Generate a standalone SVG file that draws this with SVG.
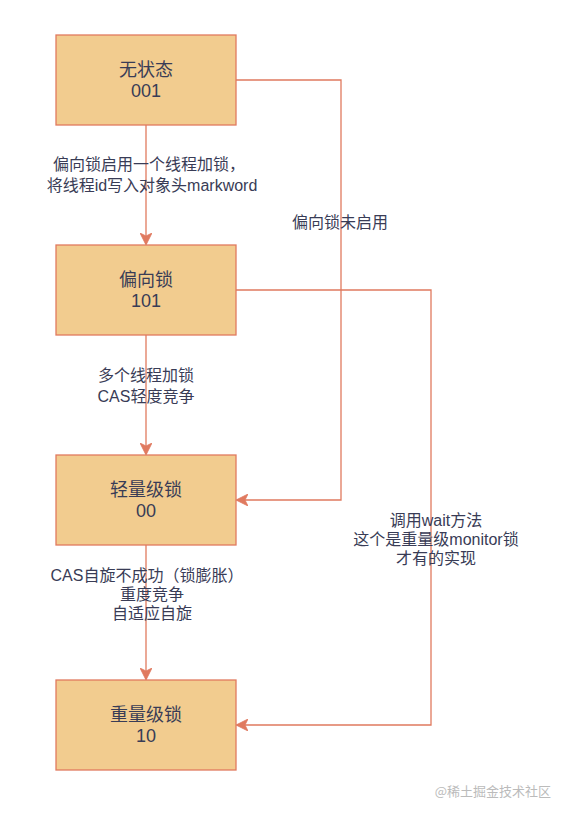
<svg xmlns="http://www.w3.org/2000/svg" width="574" height="816" viewBox="0 0 574 816">
<defs>
<style>
.node rect{fill:#F2CC8F;stroke:#E07A5F;stroke-width:1.3}
.node text{font-family:"Liberation Sans","Noto Sans CJK SC",sans-serif;font-size:18px;fill:#393C56;text-anchor:middle}
.edge{fill:none;stroke:#E07A5F;stroke-width:1.3}
.lbl{font-family:"Liberation Sans","Noto Sans CJK SC",sans-serif;font-size:16px;fill:#393C56;text-anchor:middle}
.wm{font-family:"Noto Sans CJK SC",sans-serif;font-size:13px;fill:#bbbbbb;text-anchor:end}
</style>
<marker id="arr" viewBox="0 0 12 12" refX="11" refY="6" markerWidth="12" markerHeight="12" markerUnits="userSpaceOnUse" orient="auto">
<path d="M0,0 L12,6 L0,12 L3,6 Z" fill="#E07A5F" stroke="#E07A5F" stroke-width="0.8"/>
</marker>
</defs>
<rect width="574" height="816" fill="#ffffff"/>
<g id="connectors">
<path class="edge" d="M146,125 V244" marker-end="url(#arr)"/>
<path class="edge" d="M146,335 V454" marker-end="url(#arr)"/>
<path class="edge" d="M146,545 V679" marker-end="url(#arr)"/>
<path class="edge" d="M236,80 H341 V500 H237" marker-end="url(#arr)"/>
<path class="edge" d="M236,290 H431 V725 H237" marker-end="url(#arr)"/>
<text class="lbl" x="149" y="170">偏向锁启用一个线程加锁，</text>
<text class="lbl" x="152" y="191">将线程id写入对象头markword</text>
<text class="lbl" x="340" y="228">偏向锁未启用</text>
<text class="lbl" x="146" y="381">多个线程加锁</text>
<text class="lbl" x="146" y="402">CAS轻度竞争</text>
<text class="lbl" x="436" y="526">调用wait方法</text>
<text class="lbl" x="436" y="545">这个是重量级monitor锁</text>
<text class="lbl" x="436" y="564">才有的实现</text>
<text class="lbl" x="147" y="581">CAS自旋不成功（锁膨胀）</text>
<text class="lbl" x="152" y="600">重度竞争</text>
<text class="lbl" x="152" y="619">自适应自旋</text>
</g>
<g id="node-nostate" class="node">
<rect x="56" y="35" width="180" height="90"/>
<text x="146" y="76">无状态</text>
<text x="146" y="97">001</text>
</g>
<g id="node-biased" class="node">
<rect x="56" y="245" width="180" height="90"/>
<text x="146" y="286">偏向锁</text>
<text x="146" y="307">101</text>
</g>
<g id="node-light" class="node">
<rect x="56" y="455" width="180" height="90"/>
<text x="146" y="496">轻量级锁</text>
<text x="146" y="517">00</text>
</g>
<g id="node-heavy" class="node">
<rect x="56" y="680" width="180" height="90"/>
<text x="146" y="721">重量级锁</text>
<text x="146" y="742">10</text>
</g>
<text class="wm" x="551" y="796">@稀土掘金技术社区</text>
</svg>
